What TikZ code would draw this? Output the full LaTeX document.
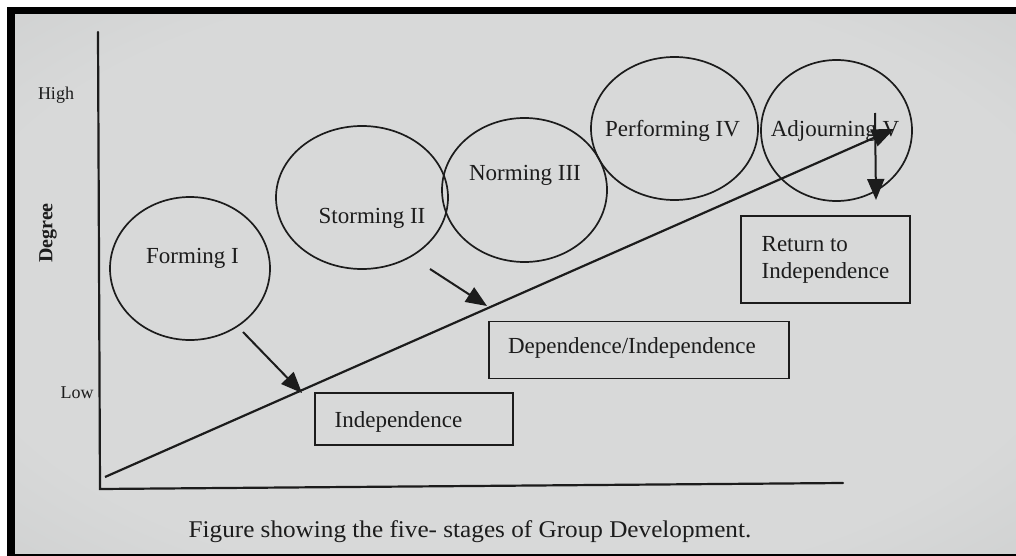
\documentclass[tikz,border=0pt]{standalone}
\usepackage{fontspec}
\setmainfont{Liberation Serif}
\newfontfamily\capfont[FakeStretch=1.05]{Liberation Serif}
\usetikzlibrary{arrows.meta,shapes.geometric}

\definecolor{ink}{HTML}{1C1C1C}
\definecolor{papermid}{HTML}{D8D9D9}
\definecolor{paperedge}{HTML}{C4C6C6}
\definecolor{papercorner}{HTML}{ACAFAF}
\pgfdeclareradialshading{paper}{\pgfpoint{0bp}{0bp}}{%
  color(0bp)=(papermid); color(28bp)=(papermid);
  color(50bp)=(paperedge); color(72bp)=(papercorner)}

\tikzset{
  stage/.style={draw=ink, line width=1.7pt, ellipse, inner sep=0pt, outer sep=0pt},
  phase/.style={draw=ink, line width=1.7pt, rectangle, inner sep=0pt, outer sep=0pt},
  lbl/.style={text=ink, inner sep=0pt, font=\fontsize{23}{27}\selectfont},
  axislbl/.style={text=ink, inner sep=0pt, font=\fontsize{18}{22}\selectfont},
  axisline/.style={draw=ink, line width=2.2pt, line cap=round, line join=miter},
  trend/.style={draw=ink, line width=2.2pt, -{Triangle[length=22pt,width=18pt]}},
  pointer/.style={draw=ink, line width=2pt, -{Triangle[length=21pt,width=17pt]}}
}

\begin{document}
\begin{tikzpicture}[x=1pt,y=-1pt]
\useasboundingbox (0,0) rectangle (1016,556);
% page frame
\fill[white] (0,0) rectangle (1016,556);
\fill[black] (7,7) rectangle (1016,556);
\shade[shading=paper] (15,15) rectangle (1016,553);

% axes
\coordinate (ytop) at (98,32);
\coordinate (orig) at (100,489);
\coordinate (xend) at (843,483);
\draw[axisline] (ytop) -- (orig) -- (xend);

\node[axislbl, anchor=base] (high) at (56,100) {High};
\node[axislbl, anchor=base] (low) at (77,398) {Low};
\node[text=ink, inner sep=0pt, rotate=90, font=\bfseries\fontsize{20}{24}\selectfont] (degree) at (48,233) {Degree};

% the five stages
\node[stage, minimum width=160pt, minimum height=143pt] (forming) at (190,268.5) {};
\node[stage, minimum width=172pt, minimum height=143pt] (storming) at (362,197.5) {};
\node[stage, minimum width=165pt, minimum height=144pt] (norming) at (524.5,190) {};
\node[stage, minimum width=167pt, minimum height=143pt] (performing) at (674.5,128.5) {};
\node[stage, minimum width=151pt, minimum height=141pt] (adjourning) at (836.5,130.5) {};

\node[lbl, anchor=base] (formingT) at (192.5,263) {Forming I};
\node[lbl, anchor=base] (stormingT) at (372,223) {Storming II};
\node[lbl, anchor=base] (normingT) at (525,181) {Norming III};
\node[lbl, anchor=base] (performingT) at (672.5,137) {Performing IV};
\node[lbl, anchor=base] (adjourningT) at (835,137) {Adjourning V};

% dependence phases
\node[phase, minimum width=198pt, minimum height=52pt] (indep) at (414,419) {};
\node[lbl, anchor=base] (indepT) at (398.5,427) {Independence};
\node[phase, minimum width=300pt, minimum height=57pt] (depind) at (639,350) {};
\node[lbl, anchor=base] (depindT) at (632,353) {Dependence/Independence};
\node[phase, minimum width=169pt, minimum height=87pt, align=left, text=ink,
      font=\fontsize{23}{27}\selectfont] (ret) at (825.5,259.5) {Return to\\Independence};

% development trend and pointers
\coordinate (trendStart) at (105,477);
\coordinate (trendEnd) at (894,129);
\draw[trend] (trendStart) -- (trendEnd);

\coordinate (p1s) at (243,332);
\coordinate (p1e) at (302,393);
\draw[pointer] (p1s) -- (p1e);
\coordinate (p2s) at (430,269);
\coordinate (p2e) at (487,306);
\draw[pointer] (p2s) -- (p2e);
\coordinate (p3s) at (875,113);
\coordinate (p3e) at (876,200);
\draw[pointer] (p3s) -- (p3e);

% caption
\node[text=ink, inner sep=0pt, anchor=base, font=\capfont\fontsize{24}{28}\selectfont] (caption) at (470,537)
  {Figure showing the five- stages of Group Development.};
\end{tikzpicture}
\end{document}
